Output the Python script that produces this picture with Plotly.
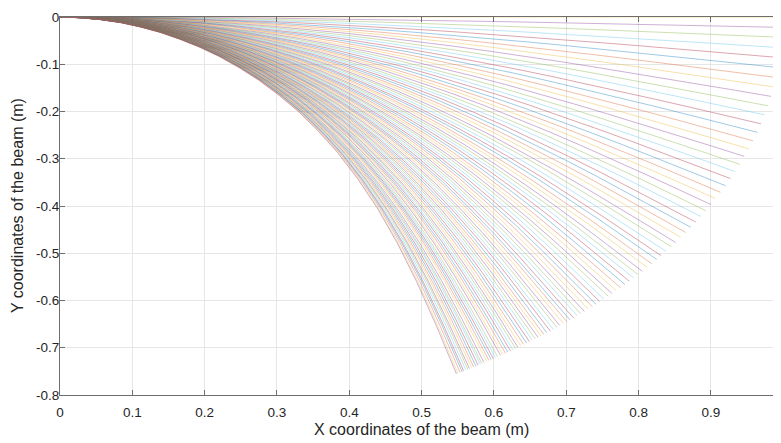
import plotly.graph_objects as go

# Tip coordinates of each deflected beam (m), one entry per load step
tip_x = [
    1.000, 1.000, 0.999, 0.997, 0.996, 0.993, 0.990, 0.987, 0.983, 0.979,
    0.974, 0.969, 0.964, 0.958, 0.952, 0.946, 0.940, 0.933, 0.927, 0.920,
    0.913, 0.906, 0.900, 0.893, 0.886, 0.879, 0.872, 0.865, 0.858, 0.851,
    0.845, 0.838, 0.831, 0.825, 0.818, 0.812, 0.805, 0.799, 0.793, 0.787,
    0.781, 0.775, 0.769, 0.763, 0.758, 0.752, 0.746, 0.741, 0.736, 0.730,
    0.725, 0.720, 0.715, 0.710, 0.705, 0.701, 0.696, 0.691, 0.687, 0.682,
    0.678, 0.673, 0.669, 0.665, 0.661, 0.657, 0.653, 0.649, 0.645, 0.641,
    0.637, 0.633, 0.630, 0.626, 0.623, 0.619, 0.616, 0.612, 0.609, 0.605,
    0.602, 0.599, 0.596, 0.593, 0.590, 0.586, 0.583, 0.581, 0.578, 0.575,
    0.572, 0.569, 0.566, 0.564, 0.561, 0.558, 0.556, 0.553, 0.550, 0.548,
]
tip_y = [
    0.000, -0.022, -0.043, -0.065, -0.086, -0.107, -0.128, -0.148, -0.168, -0.188,
    -0.207, -0.226, -0.244, -0.262, -0.279, -0.295, -0.312, -0.327, -0.342, -0.357,
    -0.371, -0.384, -0.397, -0.410, -0.422, -0.434, -0.445, -0.456, -0.466, -0.477,
    -0.486, -0.496, -0.505, -0.513, -0.522, -0.530, -0.538, -0.545, -0.552, -0.559,
    -0.566, -0.573, -0.579, -0.585, -0.591, -0.597, -0.602, -0.608, -0.613, -0.618,
    -0.623, -0.628, -0.632, -0.637, -0.641, -0.645, -0.649, -0.653, -0.657, -0.661,
    -0.665, -0.668, -0.672, -0.675, -0.678, -0.681, -0.684, -0.687, -0.690, -0.693,
    -0.696, -0.699, -0.702, -0.704, -0.707, -0.709, -0.712, -0.714, -0.716, -0.719,
    -0.721, -0.723, -0.725, -0.727, -0.729, -0.731, -0.733, -0.735, -0.737, -0.739,
    -0.741, -0.742, -0.744, -0.746, -0.747, -0.749, -0.751, -0.752, -0.754, -0.755,
]

# Beam shape: deflection as a fraction of the tip deflection, at fractions of the tip x
profile_u = [0.00, 0.05, 0.10, 0.15, 0.20, 0.25, 0.30, 0.35, 0.40, 0.45, 0.50,
             0.55, 0.60, 0.65, 0.70, 0.75, 0.80, 0.85, 0.90, 0.95, 1.00]
profile_steps = [1, 15, 31, 54, 77, 100]
profile_step1 = [0, .004, .014, .032, .056, .086, .121, .162, .208, .258, .312,
                 .370, .432, .496, .563, .633, .704, .777, .850, .925, 1]
profile_step15 = [0, .003, .014, .030, .052, .081, .115, .154, .198, .247, .300,
                  .358, .419, .483, .551, .622, .695, .769, .845, .922, 1]
profile_step31 = [0, .003, .012, .026, .045, .070, .100, .136, .176, .221, .272,
                  .327, .387, .452, .521, .594, .671, .750, .832, .916, 1]
profile_step54 = [0, .002, .009, .021, .037, .057, .082, .112, .147, .186, .231,
                  .282, .338, .400, .469, .544, .626, .713, .806, .902, 1]
profile_step77 = [0, .002, .008, .017, .031, .048, .070, .095, .125, .159, .199,
                  .244, .296, .354, .420, .495, .579, .672, .775, .885, 1]
profile_step100 = [0, .002, .007, .015, .027, .042, .061, .083, .109, .140, .175,
                   .216, .262, .316, .378, .450, .533, .630, .741, .866, 1]

x_tick_vals = [0, 0.1, 0.2, 0.3, 0.4, 0.5, 0.6, 0.7, 0.8, 0.9]
x_tick_text = ["0", "0.1", "0.2", "0.3", "0.4", "0.5", "0.6", "0.7", "0.8", "0.9"]
y_tick_vals = [-0.8, -0.7, -0.6, -0.5, -0.4, -0.3, -0.2, -0.1, 0]
y_tick_text = ["-0.8", "-0.7", "-0.6", "-0.5", "-0.4", "-0.3", "-0.2", "-0.1", "0"]
x_title = "X coordinates of the beam (m)"
y_title = "Y coordinates of the beam (m)"

matlab_colors = ['#0072BD', '#D95319', '#EDB120', '#7E2F8E', '#77AC30', '#4DBEEE', '#A2142F']

profiles = [profile_step1, profile_step15, profile_step31,
            profile_step54, profile_step77, profile_step100]


def shape_for(step):
    if step <= profile_steps[0]:
        return profiles[0]
    for j in range(len(profile_steps) - 1):
        a, b = profile_steps[j], profile_steps[j + 1]
        if a <= step <= b:
            w = (step - a) / (b - a)
            return [(1 - w) * p + w * q for p, q in zip(profiles[j], profiles[j + 1])]
    return profiles[-1]


fig = go.Figure()
for k, (tx, ty) in enumerate(zip(tip_x, tip_y)):
    v = shape_for(k)
    fig.add_trace(go.Scatter(
        x=[tx * u for u in profile_u],
        y=[ty * f for f in v],
        mode='lines',
        line=dict(color=matlab_colors[(k + 2) % 7], width=0.5),
        opacity=0.75,
        showlegend=False,
        hoverinfo='skip',
    ))

text_color = '#262626'
font_family = "Liberation Sans, Arial, sans-serif"
# the page body has an 8 px margin, so the figure is sized to fit the window
fig.update_layout(
    width=773, height=435,
    margin=dict(l=52, r=0, t=9, b=48),
    plot_bgcolor='white', paper_bgcolor='white',
    font=dict(family=font_family, size=13.5, color=text_color),
    annotations=[
        dict(text=x_title, xref='x', x=0.5, yref='paper', y=0,
             xanchor='center', yanchor='middle', yshift=-34, showarrow=False,
             font=dict(family=font_family, size=16, color=text_color)),
        dict(text=y_title, xref='paper', x=0, yref='y', y=-0.4,
             xanchor='center', yanchor='middle', xshift=-43, textangle=-90,
             showarrow=False,
             font=dict(family=font_family, size=16, color=text_color)),
    ],
)
fig.update_xaxes(
    range=[0, 0.9968], tickvals=x_tick_vals, ticktext=x_tick_text,
    showgrid=True, gridcolor='#e6e6e6', gridwidth=1, zeroline=False,
    showline=True, linecolor='#6e6e6e', linewidth=1, mirror='allticks',
    ticks='inside', ticklen=5, tickcolor='#6e6e6e',
    tickfont=dict(size=13.5, color=text_color), ticklabelstandoff=5,
    automargin=False,
)
fig.update_yaxes(
    range=[-0.8, 0], tickvals=y_tick_vals, ticktext=y_tick_text,
    showgrid=True, gridcolor='#e6e6e6', gridwidth=1, zeroline=False,
    showline=True, linecolor='#6e6e6e', linewidth=1, mirror=False,
    ticks='inside', ticklen=5, tickcolor='#6e6e6e',
    tickfont=dict(size=13.5, color=text_color), ticklabelstandoff=-3,
    automargin=False,
)
fig.write_html("out.html")
